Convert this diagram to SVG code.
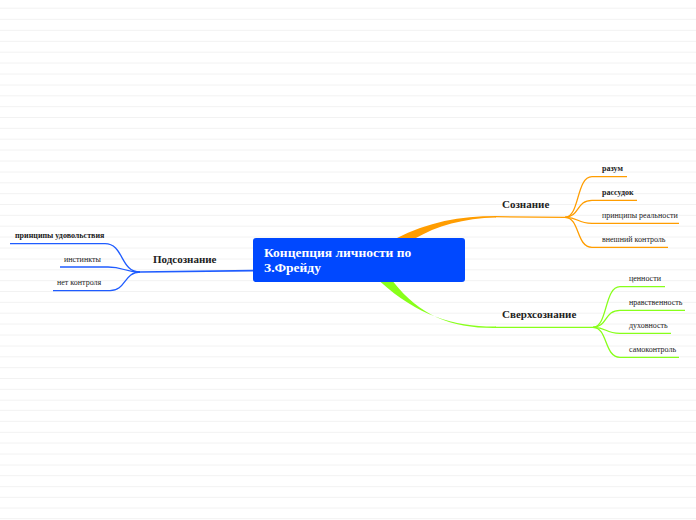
<svg xmlns="http://www.w3.org/2000/svg" width="696" height="520" viewBox="0 0 696 520">
<style>
.bg{stroke:#f2f2f2;stroke-width:1}
.lbl{font-family:"Liberation Serif","Times New Roman",serif;font-size:8px;fill:#222}
.b{font-weight:bold}
.topic{font-family:"Liberation Serif","Times New Roman",serif;font-size:11px;font-weight:bold;fill:#222}
.center{font-family:"Liberation Serif","Times New Roman",serif;font-size:13.5px;font-weight:bold;fill:#fff}
.or{stroke:#ff9d00;fill:none;stroke-width:1.3}
.gr{stroke:#88ff1a;fill:none;stroke-width:1.3}
.bl{stroke:#1f5cff;fill:none;stroke-width:1.3}
</style>
<rect width="696" height="520" fill="#fff"/>
<g id="background">
<line class="bg" x1="0" y1="8.2" x2="696" y2="8.2"/>
<line class="bg" x1="0" y1="19.3" x2="696" y2="19.3"/>
<line class="bg" x1="0" y1="30.3" x2="696" y2="30.3"/>
<line class="bg" x1="0" y1="41.3" x2="696" y2="41.3"/>
<line class="bg" x1="0" y1="52.2" x2="696" y2="52.2"/>
<line class="bg" x1="0" y1="63" x2="696" y2="63"/>
<line class="bg" x1="0" y1="74" x2="696" y2="74"/>
<line class="bg" x1="0" y1="85" x2="696" y2="85"/>
<line class="bg" x1="0" y1="95.8" x2="696" y2="95.8"/>
<line class="bg" x1="0" y1="106.7" x2="696" y2="106.7"/>
<line class="bg" x1="0" y1="117.5" x2="696" y2="117.5"/>
<line class="bg" x1="0" y1="128.3" x2="696" y2="128.3"/>
<line class="bg" x1="0" y1="139.2" x2="696" y2="139.2"/>
<line class="bg" x1="0" y1="150" x2="696" y2="150"/>
<line class="bg" x1="0" y1="161" x2="696" y2="161"/>
<line class="bg" x1="0" y1="172" x2="696" y2="172"/>
<line class="bg" x1="0" y1="182.8" x2="696" y2="182.8"/>
<line class="bg" x1="0" y1="193.7" x2="696" y2="193.7"/>
<line class="bg" x1="0" y1="204.5" x2="696" y2="204.5"/>
<line class="bg" x1="0" y1="215.3" x2="696" y2="215.3"/>
<line class="bg" x1="0" y1="226.2" x2="696" y2="226.2"/>
<line class="bg" x1="0" y1="237" x2="696" y2="237"/>
<line class="bg" x1="0" y1="248" x2="696" y2="248"/>
<line class="bg" x1="0" y1="259" x2="696" y2="259"/>
<line class="bg" x1="0" y1="269.8" x2="696" y2="269.8"/>
<line class="bg" x1="0" y1="280.7" x2="696" y2="280.7"/>
<line class="bg" x1="0" y1="291.5" x2="696" y2="291.5"/>
<line class="bg" x1="0" y1="302.3" x2="696" y2="302.3"/>
<line class="bg" x1="0" y1="313.2" x2="696" y2="313.2"/>
<line class="bg" x1="0" y1="324" x2="696" y2="324"/>
<line class="bg" x1="0" y1="335" x2="696" y2="335"/>
<line class="bg" x1="0" y1="346" x2="696" y2="346"/>
<line class="bg" x1="0" y1="356.8" x2="696" y2="356.8"/>
<line class="bg" x1="0" y1="367.7" x2="696" y2="367.7"/>
<line class="bg" x1="0" y1="378.5" x2="696" y2="378.5"/>
<line class="bg" x1="0" y1="389.3" x2="696" y2="389.3"/>
<line class="bg" x1="0" y1="400.2" x2="696" y2="400.2"/>
<line class="bg" x1="0" y1="410.3" x2="696" y2="410.3"/>
<line class="bg" x1="0" y1="421.3" x2="696" y2="421.3"/>
<line class="bg" x1="0" y1="432.3" x2="696" y2="432.3"/>
<line class="bg" x1="0" y1="443" x2="696" y2="443"/>
<line class="bg" x1="0" y1="454" x2="696" y2="454"/>
<line class="bg" x1="0" y1="465" x2="696" y2="465"/>
<line class="bg" x1="0" y1="475.7" x2="696" y2="475.7"/>
<line class="bg" x1="0" y1="486.7" x2="696" y2="486.7"/>
<line class="bg" x1="0" y1="497.3" x2="696" y2="497.3"/>
<line class="bg" x1="0" y1="508" x2="696" y2="508"/>
<line class="bg" x1="0" y1="518.7" x2="696" y2="518.7"/>
</g>
<g id="connectors">
<path d="M396,238.5 C428,222 460,216 496,216 L496,217.4 C464,218 436,226 415,238.5 Z" fill="#ff9d00"/>
<path class="or" d="M495,216.7 L565,217.3"/>
<path d="M380,281.5 C418,316 455,327 496,326.6 L496,328 C452,328.5 420,316 393,281.5 Z" fill="#88ff1a"/>
<path class="gr" d="M495,327.3 L593,327.3"/>
<path class="bl" style="stroke-width:1.6" d="M253,270.6 L140,272"/>
<path class="or" d="M565,217.3 C580,217 576,176.7 592,176.7 L627,176.7"/>
<path class="or" d="M565,217.3 C580,217 576,200.3 592,200.3 L637,200.3"/>
<path class="or" d="M565,217.3 C580,217.5 576,223.3 592,223.3 L679,223.3"/>
<path class="or" d="M565,217.3 C580,217.5 576,247.3 592,247.3 L668,247.3"/>
<path class="gr" d="M593,327.3 C608,327 604,286.7 620,286.7 L665,286.7"/>
<path class="gr" d="M593,327.3 C608,327 604,310.3 620,310.3 L685,310.3"/>
<path class="gr" d="M593,327.3 C608,327.5 604,333.3 620,333.3 L671,333.3"/>
<path class="gr" d="M593,327.3 C608,327.5 604,357.3 620,357.3 L679,357.3"/>
<path class="bl" d="M140,272 C120,272 124,243.7 105,243.7 L10,243.7"/>
<path class="bl" d="M140,272 C124,272 124,267 108,267 L60,267"/>
<path class="bl" d="M140,272 C124,272 126,290.7 110,290.7 L53,290.7"/>
</g>
<g id="central">
<rect x="253" y="238" width="212" height="44" rx="3" fill="#0048ff"/>
<text class="center" x="264" y="256.5">Концепция личности по</text>
<text class="center" x="264" y="271.5">З.Фрейду</text>
</g>
<g id="soznanie"><text class="topic" x="502" y="208">Сознание</text></g>
<g id="razum"><text class="lbl b" x="602" y="171">разум</text></g>
<g id="rassudok"><text class="lbl b" x="602" y="195">рассудок</text></g>
<g id="princip-real"><text class="lbl" x="602" y="218">принципы реальности</text></g>
<g id="vneshniy"><text class="lbl" x="602" y="242">внешний контроль</text></g>
<g id="sverh"><text class="topic" x="502" y="318">Сверхсознание</text></g>
<g id="cennosti"><text class="lbl" x="629" y="281">ценности</text></g>
<g id="nravstv"><text class="lbl" x="629" y="305">нравственность</text></g>
<g id="duhovn"><text class="lbl" x="629" y="328">духовность</text></g>
<g id="samokontrol"><text class="lbl" x="629" y="352">самоконтроль</text></g>
<g id="podsoznanie"><text class="topic" x="153" y="263">Подсознание</text></g>
<g id="princip-udov"><text class="lbl b" x="15" y="238">принципы удовольствия</text></g>
<g id="instinkty"><text class="lbl" x="64" y="261.5">инстинкты</text></g>
<g id="net-kontrolya"><text class="lbl" x="57" y="285">нет контроля</text></g>
</svg>
